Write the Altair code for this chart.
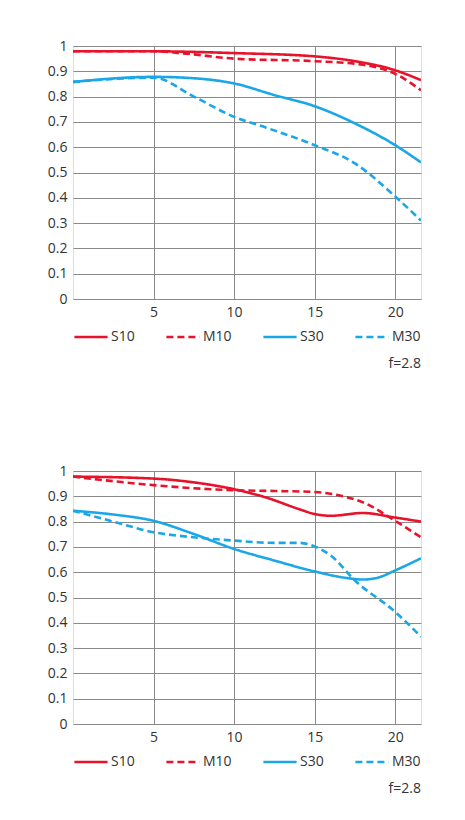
import pandas as pd
import altair as alt

# MTF values (x = image height in mm)
series_names = ["S10", "M10", "S30", "M30"]

top_x = {
    "S10": [0, 5, 10, 15, 17.5, 20, 21.6],
    "M10": [0, 5, 7, 10, 15, 18, 20, 21.6],
    "S30": [0, 5, 8, 10, 12.5, 15, 17.5, 20, 21.6],
    "M30": [0, 5, 7.5, 10, 12, 15, 17.5, 20, 21.6],
}
top_y = {
    "S10": [0.979, 0.979, 0.972, 0.959, 0.94, 0.904, 0.865],
    "M10": [0.979, 0.979, 0.97, 0.95, 0.94, 0.926, 0.89, 0.825],
    "S30": [0.858, 0.878, 0.87, 0.852, 0.806, 0.762, 0.694, 0.608, 0.54],
    "M30": [0.858, 0.875, 0.80, 0.72, 0.677, 0.608, 0.536, 0.405, 0.31],
}

bottom_x = {
    "S10": [0, 5, 7.5, 10, 12, 14, 15, 16, 18, 20, 21.6],
    "M10": [0, 5, 10, 12.5, 15, 16.5, 18, 20, 21.6],
    "S30": [0, 2.5, 5, 7.5, 10, 12.5, 15, 17, 18, 19, 20, 21.6],
    "M30": [0, 2.5, 5, 7.5, 10, 12.5, 14, 15, 16, 17.5, 20, 21.6],
}
bottom_y = {
    "S10": [0.978, 0.97, 0.955, 0.928, 0.895, 0.85, 0.83, 0.823, 0.834, 0.816, 0.80],
    "M10": [0.978, 0.944, 0.924, 0.921, 0.917, 0.904, 0.876, 0.803, 0.738],
    "S30": [0.843, 0.828, 0.803, 0.751, 0.692, 0.646, 0.603, 0.577, 0.571, 0.58, 0.607, 0.655],
    "M30": [0.843, 0.80, 0.758, 0.738, 0.725, 0.716, 0.716, 0.702, 0.666, 0.567, 0.443, 0.345],
}

x_ticks = [5, 10, 15, 20]
y_ticks = [round(i * 0.1, 1) for i in range(11)]

RED = "#e8132b"
BLUE = "#1aa7e8"


def to_frame(xs, ys):
    rows = []
    for name in series_names:
        for x, y in zip(xs[name], ys[name]):
            rows.append({"series": name, "x": x, "y": y})
    return pd.DataFrame(rows)


def panel(df):
    lines = alt.Chart(df).mark_line(
        strokeWidth=2.6, interpolate="monotone", clip=True
    ).encode(
        x=alt.X("x:Q", scale=alt.Scale(domain=[0, 21.6], nice=False),
                axis=alt.Axis(values=x_ticks, title=None, ticks=False,
                              labelPadding=6, gridColor="#8a8a8a",
                              labelFontSize=14, labelColor="#333",
                              domain=False)),
        y=alt.Y("y:Q", scale=alt.Scale(domain=[0, 1], nice=False),
                axis=alt.Axis(values=y_ticks, title=None, ticks=False,
                              labelPadding=6, gridColor="#8a8a8a",
                              labelFontSize=14, labelColor="#333",
                              domain=False, minExtent=30,
                              labelExpr="datum.value == 1 ? '1' : datum.value == 0 ? '0' : format(datum.value, '.1f')")),
        color=alt.Color("series:N",
                        scale=alt.Scale(domain=series_names, range=[RED, RED, BLUE, BLUE]),
                        legend=alt.Legend(title=None, orient="bottom", direction="horizontal",
                                          symbolType="stroke", symbolSize=1100,
                                          symbolStrokeWidth=2.6, labelFontSize=14,
                                          labelColor="#333", columnPadding=26,
                                          labelOffset=2, offset=0)),
        strokeDash=alt.StrokeDash("series:N",
                                  scale=alt.Scale(domain=series_names,
                                                  range=[[1, 0], [7, 4], [1, 0], [7, 4]]),
                                  legend=None),
        order=alt.Order("x:Q"),
    )
    return lines.properties(
        width=348,
        height=253,
        title=alt.TitleParams("f=2.8", orient="bottom", anchor="end",
                              fontSize=14, fontWeight="normal", color="#333", offset=13),
    )


top = panel(to_frame(top_x, top_y))
bottom = panel(to_frame(bottom_x, bottom_y))

chart = alt.vconcat(top, bottom, spacing=91).resolve_scale(
    color="independent", strokeDash="independent"
).configure_view(
    stroke="#777", strokeWidth=1
).configure(
    font="Open Sans", padding={"left": 34, "top": 30, "right": 5, "bottom": 5}
)

chart.save("out.html", embed_options={"renderer": "svg", "actions": False})
